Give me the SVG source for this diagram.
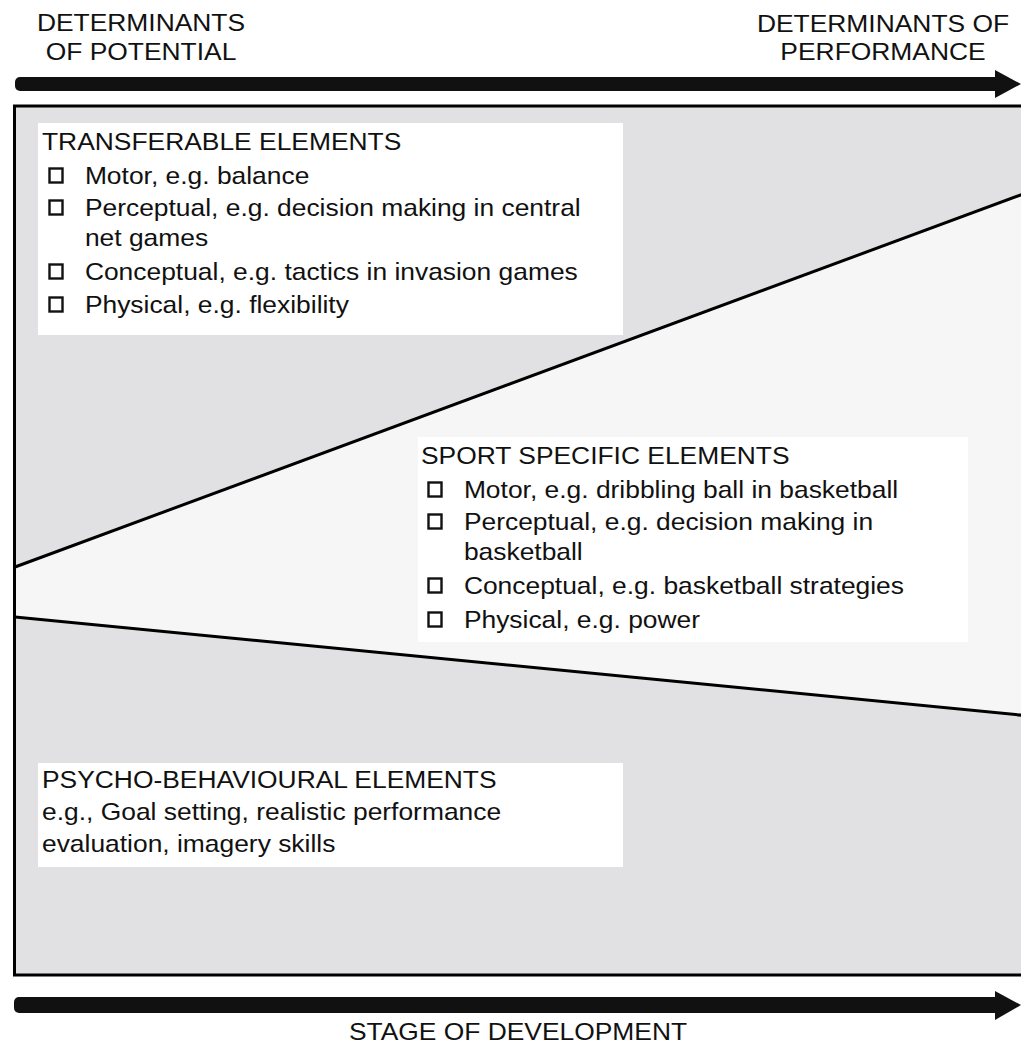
<svg xmlns="http://www.w3.org/2000/svg" width="1021" height="1044" viewBox="0 0 1021 1044">
  <style>
    text { font-family: "Liberation Sans", Arial, Helvetica, sans-serif; font-size: 24px; fill: #111; }
    .box { fill: #ffffff; }
    .chk { fill: none; stroke: #111; stroke-width: 2.4; }
    .bound { fill: none; stroke: #000; stroke-width: 3; }
    .mid { text-anchor: middle; }
  </style>

  <!-- background regions -->
  <g id="background">
    <rect x="14.5" y="106" width="1020" height="869" fill="#e1e1e3"/>
    <polygon points="16,567 1030,192 1030,716 16,617" fill="#f6f6f6"/>
    <line class="bound" x1="15" y1="567" x2="1030" y2="191.5"/>
    <line class="bound" x1="15" y1="617" x2="1030" y2="716"/>
    <rect x="14.5" y="106" width="1020" height="869" fill="none" stroke="#000" stroke-width="3"/>
  </g>

  <!-- axes / connectors -->
  <g id="connectors">
    <g id="arrow-top">
      <rect x="15" y="77" width="985" height="14" rx="5" fill="#111"/>
      <polygon points="995,70 1021,84 995,98" fill="#111"/>
    </g>
    <g id="arrow-bottom">
      <rect x="14" y="997" width="986" height="16" rx="5" fill="#111"/>
      <polygon points="995,991 1021,1005 995,1020" fill="#111"/>
    </g>
  </g>

  <!-- axis labels -->
  <g id="label-potential">
    <g transform="translate(141,0) scale(1.1,1)">
      <text class="mid" x="0" y="31">DETERMINANTS</text>
      <text class="mid" x="0" y="60">OF POTENTIAL</text>
    </g>
  </g>
  <g id="label-performance">
    <g transform="translate(883,0) scale(1.1,1)">
      <text class="mid" x="0" y="32">DETERMINANTS OF</text>
      <text class="mid" x="0" y="60">PERFORMANCE</text>
    </g>
  </g>
  <g id="label-stage">
    <g transform="translate(518,0) scale(1.1,1)">
      <text class="mid" x="0" y="1040">STAGE OF DEVELOPMENT</text>
    </g>
  </g>

  <!-- Transferable elements -->
  <g id="node-transferable">
    <rect class="box" x="38" y="123" width="585" height="212"/>
    <rect class="chk" x="49.5" y="168.5" width="13" height="14"/>
    <rect class="chk" x="49.5" y="200.5" width="13" height="14"/>
    <rect class="chk" x="49.5" y="264.5" width="13" height="14"/>
    <rect class="chk" x="49.5" y="297.5" width="13" height="14"/>
    <g transform="translate(42,0) scale(1.1,1)">
      <text x="0" y="150">TRANSFERABLE ELEMENTS</text>
      <text x="39" y="184">Motor, e.g. balance</text>
      <text x="39" y="216">Perceptual, e.g. decision making in central</text>
      <text x="39" y="246">net games</text>
      <text x="39" y="280">Conceptual, e.g. tactics in invasion games</text>
      <text x="39" y="313">Physical, e.g. flexibility</text>
    </g>
  </g>

  <!-- Sport specific elements -->
  <g id="node-sport-specific">
    <rect class="box" x="418" y="437" width="550" height="205"/>
    <rect class="chk" x="428.5" y="482.5" width="13" height="14"/>
    <rect class="chk" x="428.5" y="514.5" width="13" height="14"/>
    <rect class="chk" x="428.5" y="578.5" width="13" height="14"/>
    <rect class="chk" x="428.5" y="612.5" width="13" height="14"/>
    <g transform="translate(421,0) scale(1.1,1)">
      <text x="0" y="464">SPORT SPECIFIC ELEMENTS</text>
      <text x="39" y="498">Motor, e.g. dribbling ball in basketball</text>
      <text x="39" y="530">Perceptual, e.g. decision making in</text>
      <text x="39" y="560">basketball</text>
      <text x="39" y="594">Conceptual, e.g. basketball strategies</text>
      <text x="39" y="628">Physical, e.g. power</text>
    </g>
  </g>

  <!-- Psycho-behavioural elements -->
  <g id="node-psycho-behavioural">
    <rect class="box" x="38" y="763" width="585" height="104"/>
    <g transform="translate(42,0) scale(1.1,1)">
      <text x="0" y="788">PSYCHO-BEHAVIOURAL ELEMENTS</text>
      <text x="0" y="820">e.g., Goal setting, realistic performance</text>
      <text x="0" y="852">evaluation, imagery skills</text>
    </g>
  </g>
</svg>
